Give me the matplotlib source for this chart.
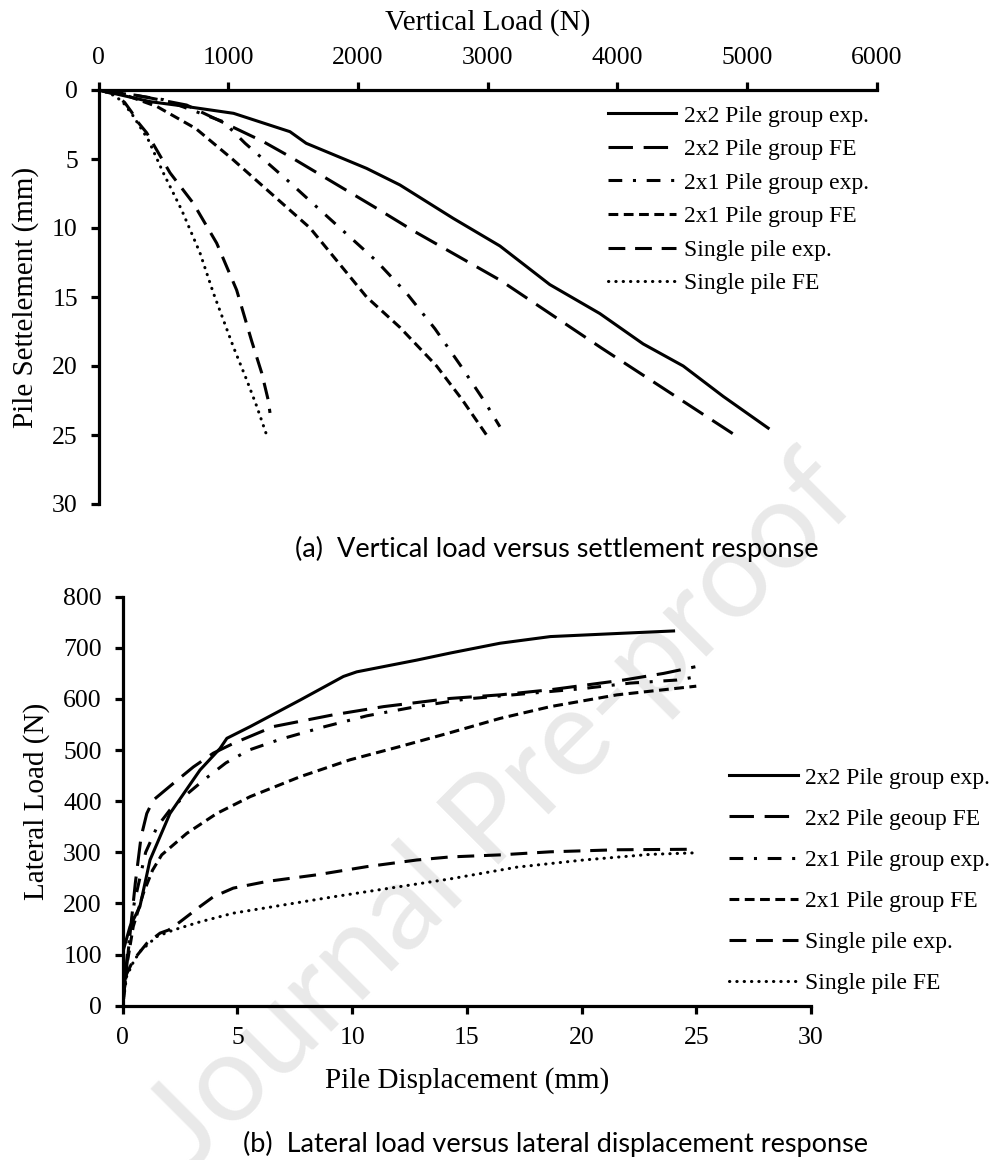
import matplotlib
matplotlib.use("Agg")
import matplotlib.pyplot as plt

plt.rcParams["font.family"] = ["Liberation Serif", "DejaVu Serif"]

# ---- vertical load vs settlement ----
v_load_2x2_exp = [0, 400, 650, 1040, 1475, 1600, 2066, 2323, 2734, 3094, 3479, 3865, 4199, 4508, 4816, 5163]
v_sett_2x2_exp = [0, 0.85, 1.16, 1.69, 3.02, 3.86, 5.68, 6.88, 9.3, 11.3, 14.1, 16.2, 18.4, 20.0, 22.2, 24.5]

v_load_2x2_fe = [0, 300, 678, 1269, 1475, 2143, 2439, 3094, 3878, 4906]
v_sett_2x2_fe = [0, 0.4, 1.09, 3.74, 4.83, 8.57, 10.27, 13.77, 18.7, 25.0]

v_load_2x1_exp = [0, 500, 962, 1129, 1462, 1642, 2143, 2375, 2593, 2786, 2978, 3094]
v_sett_2x1_exp = [0, 0.7, 2.3, 3.86, 6.6, 8.14, 12.4, 14.73, 17.3, 19.9, 22.6, 24.4]

v_load_2x1_fe = [0, 200, 450, 750, 1030, 1330, 1630, 2066, 2323, 2606, 2800, 2991]
v_sett_2x1_fe = [0, 0.35, 1.2, 2.8, 5.0, 7.5, 10.0, 15.0, 17.2, 20.0, 22.4, 25.0]

v_load_single_exp = [0, 120, 200, 254, 300, 370, 550, 729, 910, 1064, 1180, 1257, 1308, 1321]
v_sett_single_exp = [0, 0.3, 0.9, 1.6, 2.3, 3.1, 6.0, 8.2, 11.1, 14.5, 18.2, 20.5, 22.5, 23.4]

v_load_single_fe = [0, 90, 180, 260, 382, 498, 640, 781, 884, 1038, 1141, 1218, 1295]
v_sett_single_fe = [0, 0.25, 0.8, 1.8, 3.6, 6.0, 8.7, 11.8, 14.7, 18.6, 21.0, 22.9, 25.0]

# ---- lateral load vs displacement ----
l_disp_2x2_exp = [0, 0.03, 0.32, 0.75, 1.19, 2.06, 3.37, 4.24, 4.54, 5.56, 7.74, 9.62, 10.2, 12.82, 14.3, 16.45, 18.64, 21.54, 24.01]
l_load_2x2_exp = [0, 109, 155, 194, 285, 376, 461, 503, 523, 546, 598, 644, 653, 676, 690, 709, 722, 728, 733]

l_disp_2x2_fe = [0, 0.25, 0.55, 0.8, 1.05, 1.33, 2.21, 3.08, 3.95, 4.82, 6.57, 9.18, 11.37, 14.27, 16.45, 18.64, 21.83, 23.58, 24.96]
l_load_2x2_fe = [0, 110, 240, 330, 376, 402, 435, 467, 494, 513, 546, 569, 585, 601, 608, 618, 637, 650, 663]

l_disp_2x1_exp = [0, 0.2, 0.5, 1.0, 1.5, 2.06, 2.7, 3.52, 4.5, 5.5, 6.86, 8.82, 10.64, 12.8, 15.0, 17.5, 20.0, 22.12, 24.16, 24.96]
l_load_2x1_exp = [0, 100, 200, 300, 350, 383, 410, 441, 475, 500, 521, 546, 567, 585, 600, 610, 620, 631, 637, 643]

l_disp_2x1_fe = [0, 0.17, 0.46, 0.9, 1.3, 1.7, 2.79, 4.1, 5.56, 7.74, 9.91, 12.09, 14.27, 16.45, 18.64, 21.54, 25.0]
l_load_2x1_fe = [0, 76, 155, 220, 265, 295, 337, 376, 409, 448, 481, 507, 534, 562, 585, 608, 625]

l_disp_single_exp = [0, 0.15, 0.46, 1.05, 1.63, 2.0, 2.5, 3.37, 3.95, 4.82, 6.28, 8.46, 10.64, 12.82, 14.27, 16.45, 18.64, 21.54, 24.9]
l_load_single_exp = [0, 60, 89, 122, 142, 148, 164, 194, 213, 230, 243, 256, 272, 285, 291, 295, 301, 305, 306]

l_disp_single_fe = [0, 0.17, 0.46, 0.75, 1.48, 2.21, 3.37, 4.82, 7.0, 9.18, 12.09, 14.27, 17.18, 20.09, 23.0, 24.96]
l_load_single_fe = [0, 57, 85, 106, 135, 148, 164, 181, 197, 213, 233, 248, 271, 285, 296, 299]

labels_a = ["2x2 Pile group exp.", "2x2 Pile group FE", "2x1 Pile group exp.",
            "2x1 Pile group FE", "Single pile exp.", "Single pile FE"]
labels_b = ["2x2 Pile group exp.", "2x2 Pile geoup FE", "2x1 Pile group exp.",
            "2x1 Pile group FE", "Single pile exp.", "Single pile FE"]

LW = 2.2
styles = [
    dict(linestyle="-"),
    dict(linestyle=(0, (8, 3.5))),
    dict(linestyle=(0, (4.5, 3.5, 1, 3.5))),
    dict(linestyle=(0, (3.2, 1.8))),
    dict(linestyle=(0, (5.5, 3.2))),
    dict(linestyle=(0, (0.1, 2.3)), dash_capstyle="round"),
]

W, H = 994, 1160
fig = plt.figure(figsize=(W / 100, H / 100), dpi=100)


def px_box(x0, y0, x1, y1):
    return [x0 / W, 1 - y1 / H, (x1 - x0) / W, (y1 - y0) / H]


def style_axes(ax, shown):
    ax.patch.set_alpha(0)
    for side, sp in ax.spines.items():
        sp.set_visible(side in shown)
        sp.set_linewidth(2.3)
    ax.tick_params(direction="out", length=6, width=2.3, labelsize=18.5, pad=9,
                   labelfontfamily="Liberation Serif")


# (a) vertical load
ax1 = fig.add_axes(px_box(98.7, 90, 876.7, 504))
series_a = [(v_load_2x2_exp, v_sett_2x2_exp), (v_load_2x2_fe, v_sett_2x2_fe),
            (v_load_2x1_exp, v_sett_2x1_exp), (v_load_2x1_fe, v_sett_2x1_fe),
            (v_load_single_exp, v_sett_single_exp), (v_load_single_fe, v_sett_single_fe)]
for (x, y), st, lab in zip(series_a, styles, labels_a):
    ax1.plot(x, y, color="black", lw=LW, label=lab, **st)
ax1.set_xlim(0, 6000)
ax1.set_ylim(30, 0)
ax1.set_xticks(range(0, 6001, 1000))
ax1.set_yticks(range(0, 31, 5))
ax1.xaxis.tick_top()
style_axes(ax1, ("left", "top"))
ax1.legend(loc="upper left", bbox_to_anchor=(608 / W, 1 - 105 / H), bbox_transform=fig.transFigure,
           frameon=False, fontsize=17, handlelength=2.9, handletextpad=0.32,
           labelspacing=0.51, borderpad=0, borderaxespad=0)

# (b) lateral load
ax2 = fig.add_axes(px_box(122.7, 596.7, 811, 1005.7))
series_b = [(l_disp_2x2_exp, l_load_2x2_exp), (l_disp_2x2_fe, l_load_2x2_fe),
            (l_disp_2x1_exp, l_load_2x1_exp), (l_disp_2x1_fe, l_load_2x1_fe),
            (l_disp_single_exp, l_load_single_exp), (l_disp_single_fe, l_load_single_fe)]
for (x, y), st, lab in zip(series_b, styles, labels_b):
    ax2.plot(x, y, color="black", lw=LW, label=lab, **st)
ax2.set_xlim(0, 30)
ax2.set_ylim(0, 800)
ax2.set_xticks(range(0, 31, 5))
ax2.set_yticks(range(0, 801, 100))
style_axes(ax2, ("left", "bottom"))
ax2.legend(loc="upper left", bbox_to_anchor=(729.3 / W, 1 - 767 / H), bbox_transform=fig.transFigure,
           frameon=False, fontsize=17, handlelength=2.9, handletextpad=0.32,
           labelspacing=0.83, borderpad=0, borderaxespad=0)

# axis titles
fig.text(487.7 / W, 1 - 30 / H, "Vertical Load (N)", fontsize=21, ha="center", va="baseline")
fig.text(466.9 / W, 1 - 1088 / H, "Pile Displacement (mm)", fontsize=21, ha="center", va="baseline")
fig.text(33 / W, 1 - 297.5 / H, "Pile Settelement (mm)", fontsize=21, rotation=90,
         rotation_mode="anchor", ha="center", va="baseline")
fig.text(43.3 / W, 1 - 801 / H, "Lateral Load (N)", fontsize=21, rotation=90,
         rotation_mode="anchor", ha="center", va="baseline")

# sub-figure captions
cap_font = ["Lato", "DejaVu Sans"]
fig.text(295 / W, 1 - 557 / H, "(a)  Vertical load versus settlement response",
         fontsize=19.5, family=cap_font, va="baseline")
fig.text(243 / W, 1 - 1151.7 / H, "(b)  Lateral load versus lateral displacement response",
         fontsize=19.5, family=cap_font, va="baseline")

# watermark behind everything
fig.text(502 / W, 1 - 812 / H, "Journal Pre-proof", fontsize=88, family=cap_font,
         color="#e9e9e9", rotation=45, ha="center", va="center", zorder=-5)

fig.savefig("out.png", dpi=100, facecolor="white")
